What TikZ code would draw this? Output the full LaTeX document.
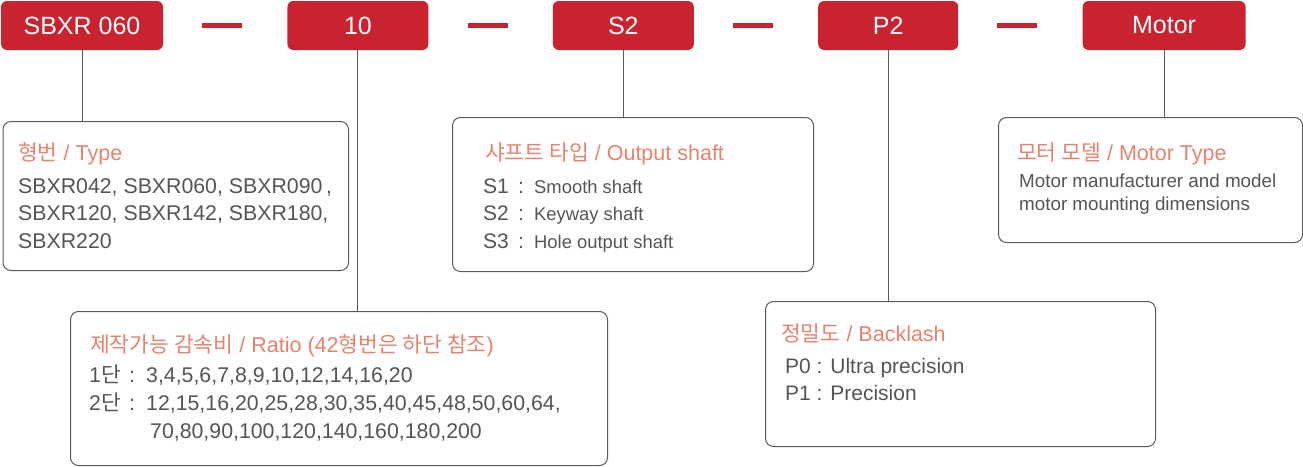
\documentclass[tikz,border=0pt]{standalone}
\usepackage{fontspec}
\setmainfont{Liberation Sans}
\newfontfamily\kr{Noto Sans CJK KR}
\usetikzlibrary{positioning,calc}
\definecolor{codered}{HTML}{CA2330}
\definecolor{titlepink}{HTML}{E8826E}
\definecolor{bodygray}{HTML}{555555}
\definecolor{framegray}{HTML}{5A5A5A}

\begin{document}
\begin{tikzpicture}[
    x=1pt, y=-1pt,
    code/.style={fill=codered, rounded corners=6pt, minimum height=49pt, inner sep=0pt, text=white, font=\fontsize{25}{25}\selectfont},
    info/.style={draw=framegray, line width=1pt, rounded corners=8pt, anchor=north west, inner sep=0pt},
    head/.style={anchor=base west, inner sep=0pt, text=titlepink, font=\fontsize{21.5}{24}\selectfont},
    body/.style={anchor=base west, inner sep=0pt, text=bodygray},
    sep/.style={draw=codered, line width=4.5pt, shorten <=39pt, shorten >=45pt},
    link/.style={draw=framegray, line width=1pt}
]
\useasboundingbox (0,0) rectangle (1303,466);

% code boxes along the top
\node[code, minimum width=162pt] (type) at (82,25.5) {SBXR 060};
\node[code, minimum width=141pt, right=124pt of type] (ratio) {10};
\node[code, minimum width=141pt, right=124pt of ratio] (shaft) {S2};
\node[code, minimum width=140pt, right=124pt of shaft] (prec) {P2};
\node[code, minimum width=163pt, right=124pt of prec] (motor) {Motor};

\draw[sep] (type) -- (ratio);
\draw[sep] (ratio) -- (shaft);
\draw[sep] (shaft) -- (prec);
\draw[sep] (prec) -- (motor);

% info boxes
\node[info, minimum width=345.5pt, minimum height=149pt] (typebox) at (2.5,121) {};
\node[info, minimum width=537pt, minimum height=154pt] (ratiobox) at (70,311) {};
\node[info, minimum width=361pt, minimum height=154pt] (shaftbox) at (452,117) {};
\node[info, minimum width=390pt, minimum height=145pt] (precbox) at (765,301) {};
\node[info, minimum width=304pt, minimum height=125pt] (motorbox) at (998,117) {};

\draw[link] (type) -- (type |- typebox.north);
\draw[link] (ratio) -- (ratio |- ratiobox.north);
\draw[link] (shaft) -- (shaft |- shaftbox.north);
\draw[link] (prec) -- (prec |- precbox.north);
\draw[link] (motor) -- (motor |- motorbox.north);

% type
\node[head] (typehead) at ($(typebox.north west)+(15.5,39)$) {{\kr 형번} / Type};
\node[body, font=\fontsize{21.3}{27.5}\selectfont] (typelist) at ($(typebox.north west)+(15.5,72)$)
    {\begin{tabular}[t]{@{}l@{}}SBXR042, SBXR060, SBXR090\,,\\SBXR120, SBXR142, SBXR180,\\SBXR220\end{tabular}};

% ratio
\node[head] (ratiohead) at ($(ratiobox.north west)+(20,41)$) {{\kr 제작가능 감속비} / Ratio (42{\kr 형번은 하단 참조})};
\node[body, font=\fontsize{21.3}{28}\selectfont] (ratiolist) at ($(ratiobox.north west)+(19,71)$)
    {\begin{tabular}[t]{@{}p{40pt}@{}p{17pt}@{}l@{}}
     1{\kr 단} & : & 3,4,5,6,7,8,9,10,12,14,16,20\\
     2{\kr 단} & : & 12,15,16,20,25,28,30,35,40,45,48,50,60,64,\\
     & & \hspace{4pt}70,80,90,100,120,140,160,180,200
     \end{tabular}};

% output shaft
\node[head] (shafthead) at ($(shaftbox.north west)+(33,43)$) {{\kr 샤프트 타입} / Output shaft};
\node[body, font=\fontsize{21}{27.5}\selectfont] (shaftlist) at ($(shaftbox.north west)+(31,76)$)
    {\begin{tabular}[t]{@{}p{35pt}@{}p{16pt}@{}l@{}}
     S1 & : & {\fontsize{18.4}{22}\selectfont Smooth shaft}\\
     S2 & : & {\fontsize{18.4}{22}\selectfont Keyway shaft}\\
     S3 & : & {\fontsize{18.4}{22}\selectfont Hole output shaft}
     \end{tabular}};

% backlash
\node[head] (prechead) at ($(precbox.north west)+(16,40)$) {{\kr 정밀도} / Backlash};
\node[body, font=\fontsize{21}{27}\selectfont] (preclist) at ($(precbox.north west)+(20,72)$)
    {\begin{tabular}[t]{@{}l@{}}P0 : Ultra precision\\P1 : Precision\end{tabular}};

% motor
\node[head] (motorhead) at ($(motorbox.north west)+(19,43)$) {{\kr 모터 모델} / Motor Type};
\node[body, font=\fontsize{18.8}{23}\selectfont] (motorlist) at ($(motorbox.north west)+(21,70)$)
    {\begin{tabular}[t]{@{}l@{}}Motor manufacturer and model\\motor mounting dimensions\end{tabular}};

\end{tikzpicture}
\end{document}
